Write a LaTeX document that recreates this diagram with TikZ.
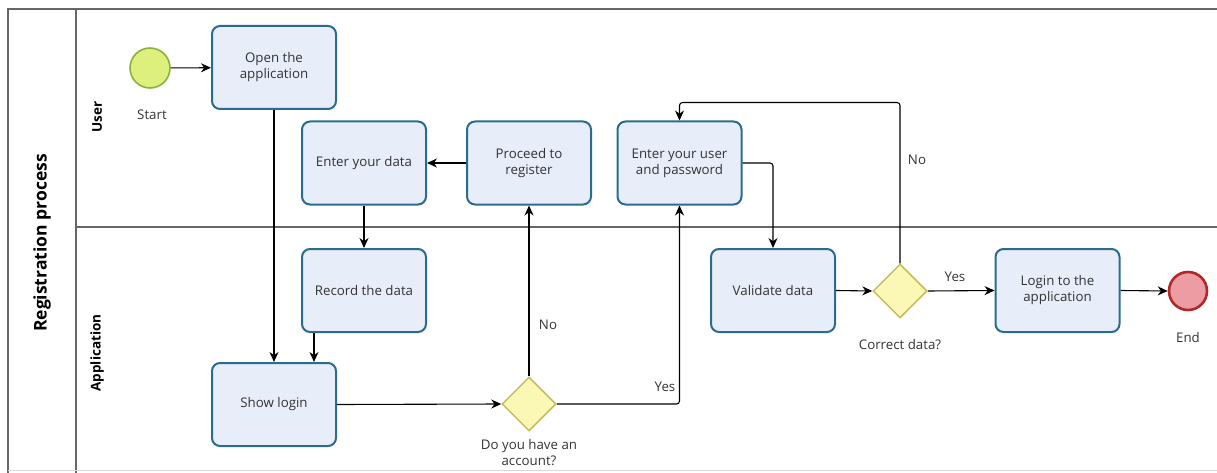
\documentclass[tikz,border=0pt]{standalone}
\usepackage{fontspec}
\setmainfont{Open Sans}
\usetikzlibrary{shapes.geometric,arrows.meta,calc}
\definecolor{boxfill}{HTML}{E8EDFA}
\definecolor{boxline}{HTML}{2B6B8C}
\definecolor{gwfill}{HTML}{FAF8B4}
\definecolor{gwline}{HTML}{C4BC5C}
\definecolor{startfill}{HTML}{DDF07E}
\definecolor{startline}{HTML}{8DB03C}
\definecolor{endfill}{HTML}{EE9CA4}
\definecolor{endline}{HTML}{B02828}
\definecolor{frameline}{HTML}{666666}
\definecolor{txt}{HTML}{333333}
\tikzset{
  task/.style={draw=boxline, fill=boxfill, line width=2pt, rounded corners=8pt,
    minimum width=124pt, minimum height=83pt, align=center, text=txt,
    font=\fontsize{13.3}{16}\selectfont, inner sep=2pt},
  gateway/.style={diamond, draw=gwline, fill=gwfill, line width=1.5pt,
    minimum width=54pt, minimum height=54pt, inner sep=0pt},
  startev/.style={circle, draw=startline, fill=startfill, line width=1.6pt,
    minimum size=40pt, inner sep=0pt},
  endev/.style={circle, draw=endline, fill=endfill, line width=2.6pt,
    minimum size=38pt, inner sep=0pt},
  lbl/.style={text=txt, font=\fontsize{13.3}{16}\selectfont, align=center, inner sep=0pt},
  lane/.style={font=\bfseries\fontsize{13.5}{16}\selectfont, rotate=90, inner sep=0pt},
  arr/.style={draw=black, line width=1.1pt, rounded corners=3pt,
    -{Stealth[length=10pt,width=9pt]}},
  frame/.style={draw=frameline, line width=1.5pt}
}
\begin{document}
\begin{tikzpicture}[x=1pt,y=-1pt]
\useasboundingbox (0,0) rectangle (1217,473);
% frame
\draw[frame] (8,473) -- (8,9) -- (1217,9);
\draw[frame] (76,9) -- (76,473);
\draw[frame] (76,227) -- (1217,227);
\draw[draw=frameline!25, line width=1pt] (8,470) -- (1217,470);
\node[font=\bfseries\fontsize{17.5}{20}\selectfont, rotate=90, inner sep=0pt] (pool) at (42,243) {Registration process};
\node[lane] (laneuser) at (97,117) {User};
\node[lane] (laneapp) at (97,353) {Application};

% nodes
\node[startev] (start) at (150,68) {};
\node[lbl] (startlbl) at (152,115) {Start};
\node[task] (open) at (274,67.5) {Open the\\application};
\node[task] (enter) at (364,163) {Enter your data};
\node[task] (proceed) at (529,163) {Proceed to\\register};
\node[task] (userpw) at (679.5,163) {Enter your user\\and password};
\node[task] (record) at (364,290.5) {Record the data};
\node[task] (show) at (274,404.5) {Show login};
\node[gateway] (gw1) at (529,404) {};
\node[lbl] (gw1lbl) at (529,453) {Do you have an\\account?};
\node[task] (validate) at (773,290.5) {Validate data};
\node[gateway] (gw2) at (900,291) {};
\node[lbl] (gw2lbl) at (900,345) {Correct data?};
\node[task] (loginapp) at (1057.5,290.5) {Login to the\\application};
\node[endev] (end) at (1188,291) {};
\node[lbl] (endlbl) at (1188,338) {End};

% connectors
\draw[arr] (start) -- (open);
\draw[arr] (open.south) -- (show.north);
\draw[arr] (enter.south) -- (record.north);
\draw[arr] ([xshift=13pt]record.south west) -- ([xshift=13pt]record.south west |- show.north);
\draw[arr] (show.east) -- (gw1.west);
\draw[arr] (gw1.north) -- (proceed.south);
\draw[arr] (gw1.east) -| (userpw.south);
\draw[arr] (proceed.west) -- (enter.east);
\draw[arr] (userpw.east) -| (validate.north);
\draw[arr] (validate.east) -- (gw2.west);
\draw[arr] (gw2.north) |- ($(userpw.north)+(0,-18)$) -- (userpw.north);
\draw[arr] (gw2.east) -- (loginapp.west);
\draw[arr] (loginapp.east) -- (end.west);

% connector labels
\node[lbl] (no1) at (548,325) {No};
\node[lbl] (yes1) at (665,387) {Yes};
\node[lbl] (no2) at (917,160) {No};
\node[lbl] (yes2) at (955,277) {Yes};
\end{tikzpicture}
\end{document}
